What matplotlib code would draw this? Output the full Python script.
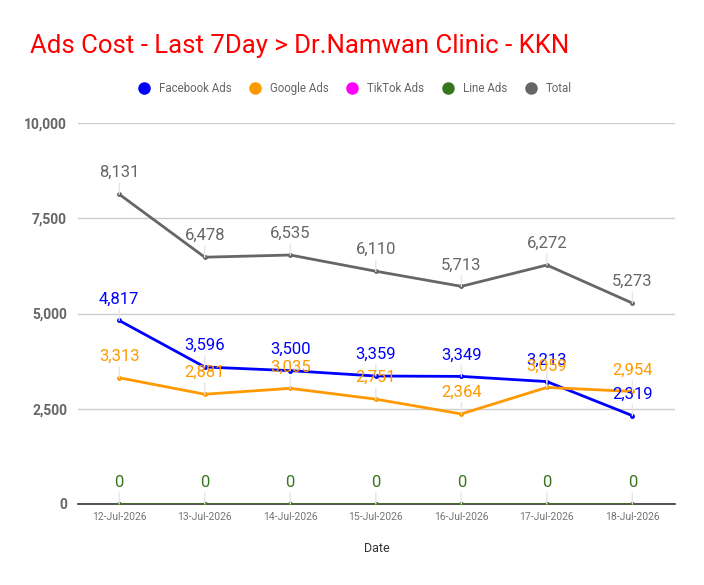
import matplotlib.pyplot as plt
from matplotlib.lines import Line2D

dates = ['12-Jul-2026', '13-Jul-2026', '14-Jul-2026', '15-Jul-2026',
         '16-Jul-2026', '17-Jul-2026', '18-Jul-2026']
facebook = [4817, 3596, 3500, 3359, 3349, 3213, 2319]
google = [3313, 2881, 3035, 2751, 2364, 3059, 2954]
tiktok = [0, 0, 0, 0, 0, 0, 0]
line_ads = [0, 0, 0, 0, 0, 0, 0]
total = [8131, 6478, 6535, 6110, 5713, 6272, 5273]

series = [
    ('Facebook Ads', facebook, '#0000ff'),
    ('Google Ads', google, '#ff9900'),
    ('TikTok Ads', tiktok, '#ff00ff'),
    ('Line Ads', line_ads, '#38761d'),
    ('Total', total, '#666666'),
]

plt.rcParams['font.family'] = ['Roboto', 'DejaVu Sans']

fig = plt.figure(figsize=(7.04, 5.85), dpi=100)
ax = fig.add_axes([0.111, 0.1385, 0.848, 0.6512])

x = list(range(len(dates)))
for name, vals, color in series:
    ax.plot(x, vals, color=color, lw=2, marker='o', ms=2.5, zorder=3)
    if name == 'TikTok Ads':
        continue
    # value labels with a thin leader line, like the original
    for xi, v in zip(x, vals):
        ax.annotate(f'{v:,}', (xi, v), xytext=(0, 14), textcoords='offset pixels',
                    ha='center', va='bottom', fontsize=12, color=color, zorder=4,
                    arrowprops=dict(arrowstyle='-', color='#e6e6e6', lw=1,
                                    shrinkA=0, shrinkB=0))

ax.set_xlim(-0.48, 6.5)
ax.set_ylim(0, 10000)
ax.set_yticks([0, 2500, 5000, 7500, 10000])
ax.set_yticklabels(['0', '2,500', '5,000', '7,500', '10,000'],
                   fontsize=10, fontweight='bold', color='#666666')
ax.set_xticks(x)
ax.set_xticklabels(dates, fontsize=7.5, color='#757575')
ax.tick_params(length=0)
ax.tick_params(axis='y', pad=8)
ax.tick_params(axis='x', pad=6)
ax.grid(axis='y', color='#cccccc', lw=1)
ax.set_axisbelow(True)
for s in ['top', 'right', 'left']:
    ax.spines[s].set_visible(False)
ax.spines['bottom'].set_color('#333333')
ax.spines['bottom'].set_linewidth(1.2)
ax.set_xlabel('Date', fontsize=9, color='#333333', labelpad=14)

handles = [Line2D([], [], marker='o', ls='', ms=8, color=c) for _, _, c in series]
fig.legend(handles, [n for n, _, _ in series], loc='center', ncol=5,
           bbox_to_anchor=(0.5, 0.848), frameon=False, fontsize=8.3,
           labelcolor='#666666', handletextpad=0.3, columnspacing=1.05)

fig.text(0.043, 0.922, 'Ads Cost - Last 7Day > Dr.Namwan Clinic - KKN',
         fontsize=18.5, color='#ff0000', ha='left', va='center')

fig.savefig('out.png', dpi=100)
